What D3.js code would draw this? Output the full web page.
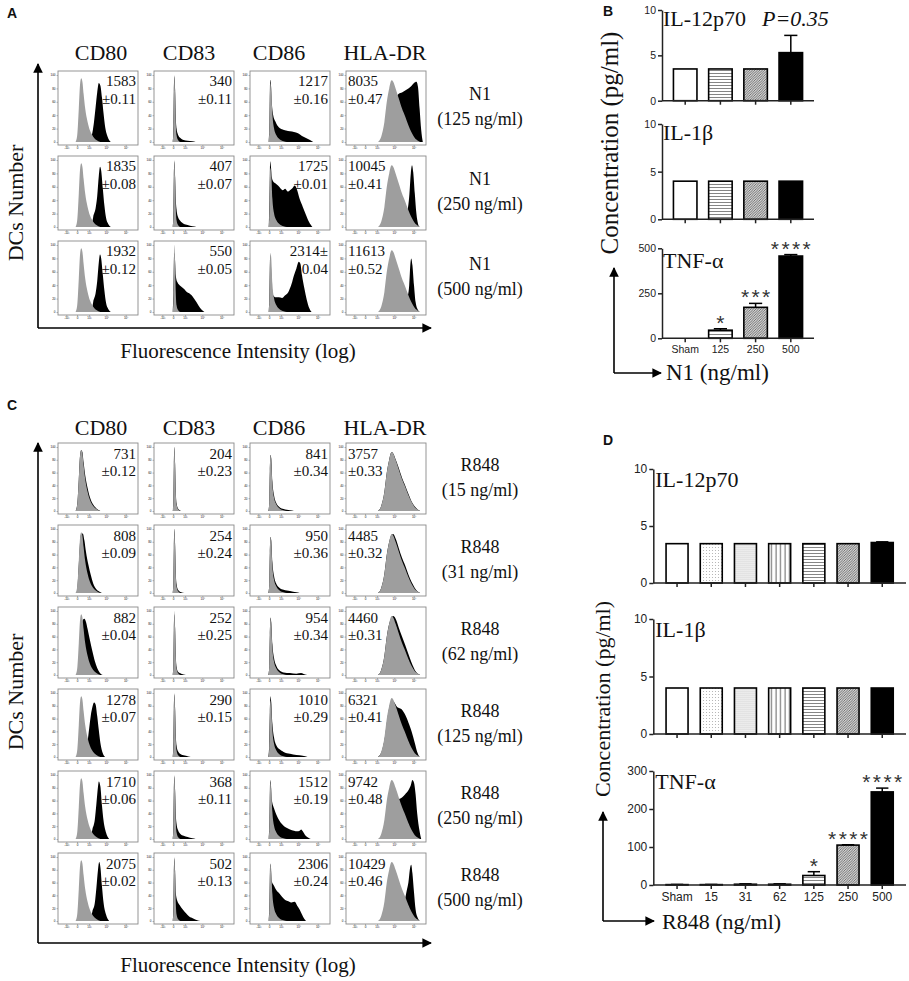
<!DOCTYPE html>
<html>
<head>
<meta charset="utf-8">
<script src="https://cdn.jsdelivr.net/npm/d3@7"></script>
<style>
  body { margin: 0; background: #fff; }
  svg text { font-family: "Liberation Serif", "Times New Roman", serif; fill: #111; }
  .sans, .sans text { font-family: "Liberation Sans", Arial, sans-serif; }
</style>
</head>
<body>
<svg id="fig" width="909" height="981"></svg>
<script>
// ---------- data ----------
const markers = ["CD80", "CD83", "CD86", "HLA-DR"];
const n1Name = "N1";
const n1Doses = ["(125 ng/ml)", "(250 ng/ml)", "(500 ng/ml)"];
const r848Name = "R848";
const r848Doses = ["(15 ng/ml)", "(31 ng/ml)", "(62 ng/ml)", "(125 ng/ml)", "(250 ng/ml)", "(500 ng/ml)"];

const n1Mfi = [
  [["1583", "±0.11"], ["340", "±0.11"], ["1217", "±0.16"], ["8035", "±0.47"]],
  [["1835", "±0.08"], ["407", "±0.07"], ["1725", "±0.01"], ["10045", "±0.41"]],
  [["1932", "±0.12"], ["550", "±0.05"], ["2314±", "0.04"], ["11613", "±0.52"]]
];
const r848Mfi = [
  [["731", "±0.12"], ["204", "±0.23"], ["841", "±0.34"], ["3757", "±0.33"]],
  [["808", "±0.09"], ["254", "±0.24"], ["950", "±0.36"], ["4485", "±0.32"]],
  [["882", "±0.04"], ["252", "±0.25"], ["954", "±0.34"], ["4460", "±0.31"]],
  [["1278", "±0.07"], ["290", "±0.15"], ["1010", "±0.29"], ["6321", "±0.41"]],
  [["1710", "±0.06"], ["368", "±0.11"], ["1512", "±0.19"], ["9742", "±0.48"]],
  [["2075", "±0.02"], ["502", "±0.13"], ["2306", "±0.24"], ["10429", "±0.46"]]
];

// histogram outlines: [channel (0-1, log display), % of max]
const controlCurves = [
  [[0.22,0],[0.24,10],[0.26,50],[0.275,85],[0.29,95],[0.305,90],[0.32,72],[0.34,50],[0.37,30],[0.40,17],[0.44,8],[0.48,3],[0.53,0]],
  [[0.235,0],[0.243,20],[0.248,70],[0.255,100],[0.264,72],[0.272,30],[0.282,10],[0.30,3],[0.33,0]],
  [[0.23,0],[0.24,12],[0.248,62],[0.256,88],[0.266,80],[0.28,42],[0.30,21],[0.33,10],[0.37,4],[0.42,1],[0.46,0]],
  [[0.40,0],[0.44,8],[0.48,30],[0.51,60],[0.54,80],[0.57,92],[0.59,90],[0.62,80],[0.66,65],[0.70,50],[0.74,38],[0.78,25],[0.82,14],[0.86,6],[0.90,2],[0.93,0]]
];

const n1Curves = [
  [
    [[0.40,0],[0.43,14],[0.45,30],[0.47,52],[0.49,74],[0.51,88],[0.53,84],[0.55,66],[0.57,42],[0.59,22],[0.62,8],[0.66,0]],
    [[0.235,0],[0.243,25],[0.248,75],[0.255,98],[0.264,78],[0.272,38],[0.282,20],[0.30,11],[0.33,6],[0.37,3],[0.42,2],[0.48,1],[0.52,0]],
    [[0.235,0],[0.243,30],[0.252,93],[0.262,85],[0.272,60],[0.29,40],[0.32,30],[0.36,22],[0.40,19],[0.45,17],[0.50,16],[0.55,15],[0.60,13],[0.65,9],[0.70,6],[0.75,3],[0.79,0]],
    [[0.56,0],[0.60,45],[0.63,66],[0.66,72],[0.70,74],[0.74,77],[0.78,80],[0.82,84],[0.85,88],[0.88,90],[0.90,82],[0.92,50],[0.94,18],[0.96,0]]
  ],
  [
    [[0.42,0],[0.44,15],[0.47,28],[0.49,46],[0.51,76],[0.525,90],[0.54,84],[0.56,58],[0.58,32],[0.60,14],[0.63,4],[0.66,0]],
    [[0.235,0],[0.243,25],[0.248,75],[0.255,98],[0.264,75],[0.272,42],[0.282,26],[0.30,15],[0.33,9],[0.37,5],[0.42,3],[0.48,1],[0.53,0]],
    [[0.235,0],[0.243,40],[0.252,98],[0.262,90],[0.272,75],[0.29,68],[0.32,65],[0.35,62],[0.38,58],[0.41,55],[0.44,57],[0.47,53],[0.50,55],[0.53,58],[0.56,62],[0.59,55],[0.62,42],[0.66,30],[0.70,18],[0.74,7],[0.78,0]],
    [[0.70,0],[0.74,12],[0.77,25],[0.79,45],[0.81,80],[0.825,92],[0.84,82],[0.86,50],[0.88,20],[0.90,5],[0.92,0]]
  ],
  [
    [[0.42,0],[0.44,15],[0.47,28],[0.49,46],[0.51,74],[0.525,86],[0.54,80],[0.56,56],[0.58,32],[0.60,14],[0.63,4],[0.66,0]],
    [[0.235,0],[0.243,30],[0.252,88],[0.262,80],[0.272,55],[0.29,45],[0.32,40],[0.35,37],[0.38,34],[0.41,30],[0.44,28],[0.47,25],[0.50,20],[0.53,15],[0.56,9],[0.59,4],[0.63,0]],
    [[0.235,0],[0.243,30],[0.252,85],[0.262,70],[0.272,40],[0.29,25],[0.32,22],[0.36,22],[0.40,21],[0.44,25],[0.48,30],[0.52,42],[0.55,55],[0.58,65],[0.61,75],[0.63,72],[0.65,55],[0.68,35],[0.71,18],[0.74,6],[0.77,0]],
    [[0.70,0],[0.74,10],[0.77,22],[0.79,40],[0.805,72],[0.815,80],[0.83,70],[0.85,40],[0.87,15],[0.90,3],[0.92,0]]
  ]
];

const r848Curves = [
  [
    [[0.22,0],[0.24,10],[0.26,50],[0.275,86],[0.29,95],[0.305,92],[0.32,76],[0.34,56],[0.37,36],[0.40,21],[0.44,10],[0.48,4],[0.53,0]],
    [[0.235,0],[0.243,20],[0.248,70],[0.255,100],[0.264,74],[0.272,32],[0.282,12],[0.30,4],[0.34,0]],
    [[0.23,0],[0.24,12],[0.248,62],[0.256,88],[0.266,82],[0.28,46],[0.30,25],[0.33,12],[0.37,6],[0.42,3],[0.50,1],[0.55,0]],
    [[0.40,0],[0.44,8],[0.48,30],[0.51,60],[0.54,80],[0.57,92],[0.59,90],[0.62,81],[0.66,67],[0.70,52],[0.74,40],[0.78,27],[0.82,15],[0.86,7],[0.90,2],[0.93,0]]
  ],
  [
    [[0.24,0],[0.26,45],[0.28,86],[0.29,92],[0.31,93],[0.33,82],[0.35,64],[0.38,44],[0.41,28],[0.44,15],[0.48,6],[0.52,2],[0.55,0]],
    [[0.235,0],[0.243,20],[0.248,70],[0.255,100],[0.264,76],[0.272,33],[0.282,14],[0.30,5],[0.34,1],[0.38,0]],
    [[0.23,0],[0.24,12],[0.248,62],[0.256,88],[0.266,82],[0.28,48],[0.30,27],[0.33,14],[0.37,8],[0.42,5],[0.50,3],[0.58,1],[0.62,0]],
    [[0.40,0],[0.44,8],[0.48,30],[0.51,60],[0.54,80],[0.57,91],[0.59,92],[0.62,85],[0.66,70],[0.70,55],[0.74,43],[0.78,29],[0.82,17],[0.86,8],[0.90,2],[0.93,0]]
  ],
  [
    [[0.26,0],[0.29,72],[0.31,86],[0.33,88],[0.35,83],[0.37,72],[0.40,54],[0.43,37],[0.46,22],[0.49,11],[0.52,4],[0.56,0]],
    [[0.235,0],[0.243,20],[0.248,70],[0.255,95],[0.264,74],[0.272,32],[0.282,13],[0.30,5],[0.34,2],[0.40,0]],
    [[0.23,0],[0.24,12],[0.248,62],[0.256,90],[0.266,82],[0.28,48],[0.30,27],[0.33,14],[0.37,7],[0.42,4],[0.50,3],[0.58,2],[0.64,3],[0.68,1],[0.72,0]],
    [[0.40,0],[0.44,8],[0.48,30],[0.51,60],[0.54,80],[0.57,90],[0.59,92],[0.62,88],[0.66,74],[0.70,60],[0.74,47],[0.78,33],[0.82,19],[0.86,8],[0.90,2],[0.93,0]]
  ],
  [
    [[0.30,0],[0.34,10],[0.37,25],[0.39,45],[0.41,65],[0.43,78],[0.45,85],[0.47,82],[0.49,64],[0.51,42],[0.53,22],[0.56,6],[0.59,0]],
    [[0.235,0],[0.243,25],[0.248,75],[0.255,98],[0.264,76],[0.272,36],[0.282,18],[0.30,9],[0.34,4],[0.40,2],[0.46,0]],
    [[0.23,0],[0.24,20],[0.248,70],[0.256,95],[0.266,85],[0.28,52],[0.30,31],[0.33,18],[0.37,12],[0.42,8],[0.50,5],[0.58,3],[0.66,2],[0.72,0]],
    [[0.40,0],[0.45,10],[0.49,34],[0.52,62],[0.55,82],[0.58,88],[0.60,86],[0.62,82],[0.64,78],[0.67,76],[0.70,74],[0.74,66],[0.78,54],[0.82,40],[0.86,22],[0.89,8],[0.92,0]]
  ],
  [
    [[0.40,0],[0.43,15],[0.46,30],[0.48,55],[0.50,82],[0.51,90],[0.53,82],[0.55,52],[0.57,28],[0.60,10],[0.64,0]],
    [[0.235,0],[0.243,25],[0.248,75],[0.255,98],[0.264,76],[0.272,40],[0.282,24],[0.30,14],[0.33,8],[0.37,5],[0.42,3],[0.48,1],[0.52,0]],
    [[0.235,0],[0.243,30],[0.252,92],[0.262,82],[0.272,62],[0.30,48],[0.33,38],[0.37,28],[0.41,22],[0.45,18],[0.50,15],[0.55,13],[0.59,12],[0.62,13],[0.64,15],[0.66,12],[0.69,6],[0.73,2],[0.76,0]],
    [[0.56,0],[0.60,40],[0.63,58],[0.66,62],[0.70,65],[0.74,70],[0.78,76],[0.81,84],[0.83,92],[0.85,88],[0.87,70],[0.89,40],[0.92,12],[0.94,0]]
  ],
  [
    [[0.40,0],[0.43,15],[0.46,28],[0.48,52],[0.50,80],[0.515,92],[0.53,84],[0.55,54],[0.57,28],[0.60,10],[0.64,0]],
    [[0.235,0],[0.243,25],[0.248,75],[0.255,98],[0.264,78],[0.272,45],[0.29,32],[0.32,25],[0.36,18],[0.40,12],[0.44,7],[0.49,4],[0.54,1],[0.58,0]],
    [[0.235,0],[0.243,30],[0.252,90],[0.262,80],[0.272,62],[0.30,55],[0.33,48],[0.36,44],[0.40,38],[0.44,33],[0.48,31],[0.52,29],[0.56,30],[0.59,24],[0.62,18],[0.65,10],[0.68,3],[0.70,0]],
    [[0.66,0],[0.70,15],[0.73,30],[0.76,48],[0.78,60],[0.80,82],[0.815,88],[0.83,75],[0.85,45],[0.87,18],[0.90,4],[0.92,0]]
  ]
];

const flowCountTicks = [0, 20, 40, 60, 80, 100];
const flowChanTicks = [0.104, 0.238, 0.388, 0.604, 0.846];
const flowChanLabels = ["-10³", "0", "10³", "10⁴", "10⁵"];

// ELISA
const n1Cats = ["Sham", "125", "250", "500"];
const n1Il12 = [3.5, 3.5, 3.5, 5.3];
const n1Il12Err = [0, 0, 0, 1.9];
const n1Il1b = [4.0, 4.0, 4.0, 4.0];
const n1Il1bErr = [0, 0, 0, 0];
const n1Tnf = [0, 45, 172, 457];
const n1TnfErr = [0, 8, 22, 8];
const n1TnfStars = ["", "*", "***", "****"];

const r848Cats = ["Sham", "15", "31", "62", "125", "250", "500"];
const r848Il12 = [3.45, 3.45, 3.45, 3.45, 3.45, 3.45, 3.55];
const r848Il12Err = [0, 0, 0, 0, 0, 0, 0.06];
const r848Il1b = [4.0, 4.0, 4.0, 4.0, 4.0, 4.0, 4.0];
const r848Il1bErr = [0, 0, 0, 0, 0, 0, 0];
const r848Tnf = [1, 1, 2, 2, 25, 105, 245];
const r848TnfErr = [0.5, 0.5, 1, 1, 10, 1, 10];
const r848TnfStars = ["", "", "", "", "*", "****", "****"];

// ---------- drawing ----------
const svg = d3.select("#fig");
const defs = svg.append("defs");

function pattern(id, w, h, draw) {
  const p = defs.append("pattern").attr("id", id)
    .attr("patternUnits", "userSpaceOnUse").attr("width", w).attr("height", h);
  p.append("rect").attr("width", w).attr("height", h).attr("fill", "#fff");
  draw(p);
}
pattern("hl", 4, 3, p => p.append("line").attr("x1", 0).attr("x2", 4).attr("y1", 1.5).attr("y2", 1.5)
  .attr("stroke", "#777").attr("stroke-width", 0.9));
pattern("vl", 4.5, 4, p => p.append("line").attr("x1", 2).attr("x2", 2).attr("y1", 0).attr("y2", 4)
  .attr("stroke", "#444").attr("stroke-width", 0.9));
pattern("dg", 2.5, 2.5, p => p.append("path").attr("d", "M-1,1 L1,-1 M0,2.5 L2.5,0 M1.5,3.5 L3.5,1.5")
  .attr("stroke", "#555").attr("stroke-width", 0.85));
pattern("dt1", 3, 3, p => p.append("circle").attr("cx", 1.5).attr("cy", 1.5).attr("r", 0.55).attr("fill", "#aaa"));
pattern("dt2", 2, 2, p => p.append("circle").attr("cx", 1).attr("cy", 1).attr("r", 0.6).attr("fill", "#999"));

const fillOf = { w: "#fff", k: "#000", hl: "url(#hl)", vl: "url(#vl)", dg: "url(#dg)", d1: "url(#dt1)", d2: "url(#dt2)" };

defs.append("marker").attr("id", "arr").attr("viewBox", "0 0 10 10")
  .attr("refX", 9).attr("refY", 5).attr("markerWidth", 6).attr("markerHeight", 6)
  .attr("markerUnits", "strokeWidth").attr("orient", "auto")
  .append("path").attr("d", "M0,0 L10,5 L0,10 z").attr("fill", "#000");

function arrowLine(x1, y1, x2, y2) {
  svg.append("line").attr("x1", x1).attr("y1", y1).attr("x2", x2).attr("y2", y2)
    .attr("stroke", "#000").attr("stroke-width", 1.6).attr("marker-end", "url(#arr)");
}

function panelLetter(t, x, y) {
  svg.append("text").attr("class", "sans").attr("x", x).attr("y", y)
    .attr("font-size", 14).attr("font-weight", "bold").text(t);
}

const colX = [58, 154, 250, 346];
const boxW = 80;
const headerX = [101, 189, 279, 385];

function flowPanel(p) {
  const g = svg.append("g");
  markers.forEach((m, c) => g.append("text").attr("x", headerX[c]).attr("y", p.headerY)
    .attr("text-anchor", "middle").attr("font-size", 22).text(m));

  p.curves.forEach((row, r) => {
    const by = p.top + r * p.pitch;
    row.forEach((pts, c) => {
      const bx = colX[c];
      const x = d3.scaleLinear().domain([0, 1]).range([bx, bx + boxW]);
      const y = d3.scaleLinear().domain([0, 100]).range([by + p.boxH - 3, by + 4]);
      const area = d3.area().x(d => x(d[0])).y0(y(0)).y1(d => y(d[1])).curve(d3.curveMonotoneX);
      const cell = g.append("g");
      cell.append("path").attr("d", area(pts)).attr("fill", "#000");
      cell.append("path").attr("d", area(controlCurves[c])).attr("fill", "#9e9e9e");
      cell.append("rect").attr("x", bx).attr("y", by).attr("width", boxW).attr("height", p.boxH)
        .attr("fill", "none").attr("stroke", "#8a8a8a").attr("stroke-width", 0.9);

      const ya = cell.append("g").attr("class", "sans").attr("transform", `translate(${bx},0)`)
        .call(d3.axisLeft(y).tickValues(flowCountTicks).tickSize(1.5).tickPadding(1));
      const xa = cell.append("g").attr("class", "sans").attr("transform", `translate(0,${by + p.boxH})`)
        .call(d3.axisBottom(x).tickValues(flowChanTicks).tickSize(1.5).tickPadding(0.5)
          .tickFormat((d, i) => flowChanLabels[i]));
      [ya, xa].forEach(a => {
        a.select(".domain").remove();
        a.selectAll("line").attr("stroke", "#777").attr("stroke-width", 0.5);
        a.selectAll("text").attr("font-size", 3).attr("fill", "#777");
      });

      const left = c === 3;
      const tx = left ? bx + 2 : bx + boxW - 2;
      const lines = p.mfi[r][c];
      cell.append("text").attr("x", tx).attr("y", by + p.mfiY[0])
        .attr("text-anchor", left ? "start" : "end").attr("font-size", 15).text(lines[0]);
      cell.append("text").attr("x", tx).attr("y", by + p.mfiY[1])
        .attr("text-anchor", left ? "start" : "end").attr("font-size", 15).text(lines[1]);
    });
    g.append("text").attr("x", 480).attr("y", by + p.labelY[0]).attr("text-anchor", "middle")
      .attr("font-size", 18).text(p.name);
    g.append("text").attr("x", 480).attr("y", by + p.labelY[1]).attr("text-anchor", "middle")
      .attr("font-size", 18).text(p.doses[r]);
  });

  arrowLine(38, p.axisY, 38, p.arrowTop);
  arrowLine(38, p.axisY, 431, p.axisY);
  g.append("text").attr("transform", `translate(23,${p.yLabelMid}) rotate(-90)`)
    .attr("text-anchor", "middle").attr("font-size", 22).text("DCs Number");
  g.append("text").attr("x", 238).attr("y", p.xLabelY).attr("text-anchor", "middle")
    .attr("font-size", 21).text("Fluorescence Intensity (log)");
}

function barChart(o) {
  const g = svg.append("g");
  const x = d3.scaleBand().domain(o.cats).range([o.x0, o.x1]).paddingInner(o.pi).paddingOuter(o.po);
  const y = d3.scaleLinear().domain([0, o.max]).range([o.yBase, o.yTop]);
  const bw = x.bandwidth();

  g.selectAll("rect.bar").data(o.values).join("rect").attr("class", "bar")
    .attr("x", (d, i) => x(o.cats[i])).attr("width", bw)
    .attr("y", d => y(d)).attr("height", d => o.yBase - y(d))
    .attr("fill", (d, i) => fillOf[o.fills[i]]).attr("stroke", "#000").attr("stroke-width", 1.6);

  o.values.forEach((v, i) => {
    const e = o.errs[i];
    const cx = x(o.cats[i]) + bw / 2;
    if (e > 0) {
      g.append("line").attr("x1", cx).attr("x2", cx).attr("y1", y(v)).attr("y2", y(v + e))
        .attr("stroke", "#000").attr("stroke-width", 1.5);
      g.append("line").attr("x1", cx - bw * 0.28).attr("x2", cx + bw * 0.28)
        .attr("y1", y(v + e)).attr("y2", y(v + e)).attr("stroke", "#000").attr("stroke-width", 1.5);
    }
    if (o.stars && o.stars[i]) {
      g.append("text").attr("class", "sans").attr("x", cx + 1.2).attr("y", y(v + e) + 1)
        .attr("text-anchor", "middle").attr("font-size", 21).attr("letter-spacing", 2.4)
        .style("fill", "#333").text(o.stars[i]);
    }
  });

  const ya = g.append("g").attr("class", "sans").attr("transform", `translate(${o.x0},0)`)
    .call(d3.axisLeft(y).tickValues(o.ticks).tickSize(4).tickSizeOuter(0).tickPadding(2));
  const xa = g.append("g").attr("class", "sans").attr("transform", `translate(0,${o.yBase})`)
    .call(d3.axisBottom(x).tickSize(4).tickSizeOuter(0).tickPadding(3)
      .tickFormat(o.labels ? d => d : () => ""));
  [ya, xa].forEach(a => {
    a.selectAll("path, line").attr("stroke", "#222").attr("stroke-width", 1.5);
    a.selectAll("text").attr("font-size", o.tickFont).style("fill", "#222");
  });
  xa.select(".domain").attr("d", `M${o.x0},0H${o.x1}`);

  g.append("text").attr("x", o.x0 + o.titleDx).attr("y", o.yTop + o.titleDy)
    .attr("font-size", 22).text(o.title);
  if (o.note) {
    g.append("text").attr("x", o.noteX).attr("y", o.yTop + o.titleDy)
      .attr("font-size", 22).attr("font-style", "italic").text(o.note);
  }
}

// ---------- panel A ----------
panelLetter("A", 7, 18);
flowPanel({
  headerY: 60, top: 71, pitch: 85, boxH: 74, curves: n1Curves, mfi: n1Mfi,
  mfiY: [15, 33], name: n1Name, doses: n1Doses, labelY: [29, 54],
  axisY: 328, arrowTop: 64, yLabelMid: 203, xLabelY: 358
});

// ---------- panel C ----------
panelLetter("C", 7, 410);
flowPanel({
  headerY: 435, top: 443, pitch: 82, boxH: 71, curves: r848Curves, mfi: r848Mfi,
  mfiY: [16, 33], name: r848Name, doses: r848Doses, labelY: [28, 53],
  axisY: 943, arrowTop: 443, yLabelMid: 692, xLabelY: 972
});

// ---------- panel B ----------
panelLetter("B", 603, 16);
const bBase = { cats: n1Cats, x0: 662, x1: 814, pi: 0.332, po: 0.325, fills: ["w", "hl", "dg", "k"], tickFont: 10.5, titleDx: 1 };
barChart({ ...bBase, values: n1Il12, errs: n1Il12Err, max: 10, ticks: [0, 5, 10], yTop: 10, yBase: 100.7,
  title: "IL-12p70", titleDy: 15.6, note: "P=0.35", noteX: 762 });
barChart({ ...bBase, values: n1Il1b, errs: n1Il1bErr, max: 10, ticks: [0, 5, 10], yTop: 124, yBase: 219.3,
  title: "IL-1β", titleDy: 15.6 });
barChart({ ...bBase, values: n1Tnf, errs: n1TnfErr, stars: n1TnfStars, max: 500, ticks: [0, 250, 500],
  yTop: 248.3, yBase: 338.3, title: "TNF-α", titleDy: 20, labels: true });
svg.append("text").attr("transform", "translate(618,143) rotate(-90)").attr("text-anchor", "middle")
  .attr("font-size", 25).text("Concentration (pg/ml)");
arrowLine(614, 373, 614, 268);
arrowLine(614, 373, 661, 373);
svg.append("text").attr("x", 666).attr("y", 380).attr("font-size", 23).text("N1 (ng/ml)");

// ---------- panel D ----------
panelLetter("D", 603, 445);
const dBase = { cats: r848Cats, x0: 653.3, x1: 906, pi: 0.357, po: 0.373,
  fills: ["w", "d1", "d2", "vl", "hl", "dg", "k"], tickFont: 12, titleDx: 2, titleDy: 18 };
barChart({ ...dBase, values: r848Il12, errs: r848Il12Err, max: 10, ticks: [0, 5, 10], yTop: 469, yBase: 583,
  title: "IL-12p70" });
barChart({ ...dBase, values: r848Il1b, errs: r848Il1bErr, max: 10, ticks: [0, 5, 10], yTop: 619, yBase: 734,
  title: "IL-1β" });
barChart({ ...dBase, values: r848Tnf, errs: r848TnfErr, stars: r848TnfStars, max: 300, ticks: [0, 100, 200, 300],
  yTop: 771, yBase: 885, title: "TNF-α", labels: true });
svg.append("text").attr("transform", "translate(610,699) rotate(-90)").attr("text-anchor", "middle")
  .attr("font-size", 22).text("Concentration (pg/ml)");
arrowLine(603, 921, 603, 812);
arrowLine(603, 921, 654, 921);
svg.append("text").attr("x", 662).attr("y", 929).attr("font-size", 22).text("R848 (ng/ml)");
</script>
</body>
</html>
